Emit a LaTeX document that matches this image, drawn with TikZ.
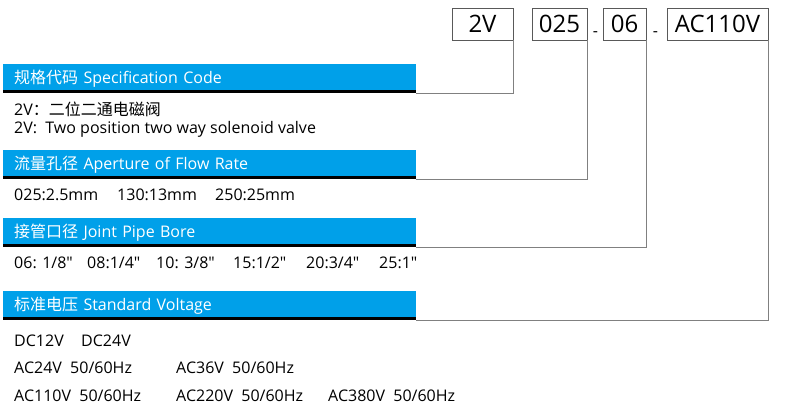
\documentclass[tikz,border=0pt]{standalone}
\usepackage{fontspec}
\setmainfont{Open Sans}
\newfontfamily\cjk{Noto Sans CJK SC}
\usetikzlibrary{positioning}
\definecolor{barblue}{HTML}{00A0E9}
\tikzset{
    codebox/.style={rectangle, draw=black!65, line width=0.8pt, minimum height=32pt, inner sep=0pt, text height=17pt, text depth=0pt, font=\fontsize{24}{24}\selectfont},
    hyphen/.style={anchor=base, inner sep=0pt, font=\fontsize{16}{16}\selectfont},
    titlebar/.style={rectangle, fill=barblue, anchor=north west, minimum height=29pt, text width=391pt, inner xsep=11pt, inner ysep=0pt, align=left, text height=11pt, text depth=2pt, text=white, font=\fontsize{16}{16}\selectfont},
    underline/.style={line width=3pt, black},
    link/.style={draw=black!50, line width=1pt},
    body/.style={anchor=base west, inner sep=0pt, font=\fontsize{16}{16}\selectfont},
}
\begin{document}
\begin{tikzpicture}[x=1pt, y=-1pt]
    \useasboundingbox (0,0) rectangle (789,407);
    % code boxes
    \node[codebox, minimum width=61pt] (b2v) at (482.5,24) {2V};
    \node[codebox, minimum width=55pt] (b025) at (559.5,24) {025};
    \node[codebox, minimum width=43pt] (b06) at (624.5,24) {06};
    \node[codebox, minimum width=101pt] (bac) at (717.5,24) {AC110V};
    \node[hyphen] (d1) at (595.5,36) {-};
    \node[hyphen] (d2) at (655.5,36) {-};
    % title bars
    \node[titlebar] (spec) at (3,64) {{\cjk 规格代码} Specification Code};
    \node[titlebar] (flow) at (3,150) {{\cjk 流量孔径} Aperture of Flow Rate};
    \node[titlebar] (pipe) at (3,218) {{\cjk 接管口径} Joint Pipe Bore};
    \node[titlebar] (volt) at (3,291) {{\cjk 标准电压} Standard Voltage};
    \foreach \bar in {spec, flow, pipe, volt}
        \draw[underline] ([yshift=1.5pt]\bar.south west) -- ([yshift=1.5pt]\bar.south east);
    % connectors
    \draw[link] (b2v.south east) |- (spec.south east);
    \draw[link] (b025.south east) |- (flow.south east);
    \draw[link] (b06.south east) |- (pipe.south east);
    \draw[link] (bac.south east) |- (volt.south east);
    % descriptions
    \node[body] (s1) at (14,115) {2V{\cjk ：二位二通电磁阀}};
    \node[body] (s2) at (14,133) {2V:\ \ Two position two way solenoid valve};
    \node[body] (f1) at (14,200) {025:2.5mm};
    \node[body] (f2) at (117,200) {130:13mm};
    \node[body] (f3) at (215,200) {250:25mm};
    \node[body] (p1) at (14,268) {06: 1/8″};
    \node[body] (p2) at (87,268) {08:1/4″};
    \node[body] (p3) at (156,268) {10: 3/8″};
    \node[body] (p4) at (233,268) {15:1/2″};
    \node[body] (p5) at (306,268) {20:3/4″};
    \node[body] (p6) at (379,268) {25:1″};
    \node[body] (v1) at (14,346) {DC12V};
    \node[body] (v2) at (81,346) {DC24V};
    \node[body] (v3) at (14,373) {AC24V\ \ 50/60Hz};
    \node[body] (v4) at (176,373) {AC36V\ \ 50/60Hz};
    \node[body] (v5) at (14,401) {AC110V\ \ 50/60Hz};
    \node[body] (v6) at (176,401) {AC220V\ \ 50/60Hz};
    \node[body] (v7) at (328,401) {AC380V\ \ 50/60Hz};
\end{tikzpicture}
\end{document}
